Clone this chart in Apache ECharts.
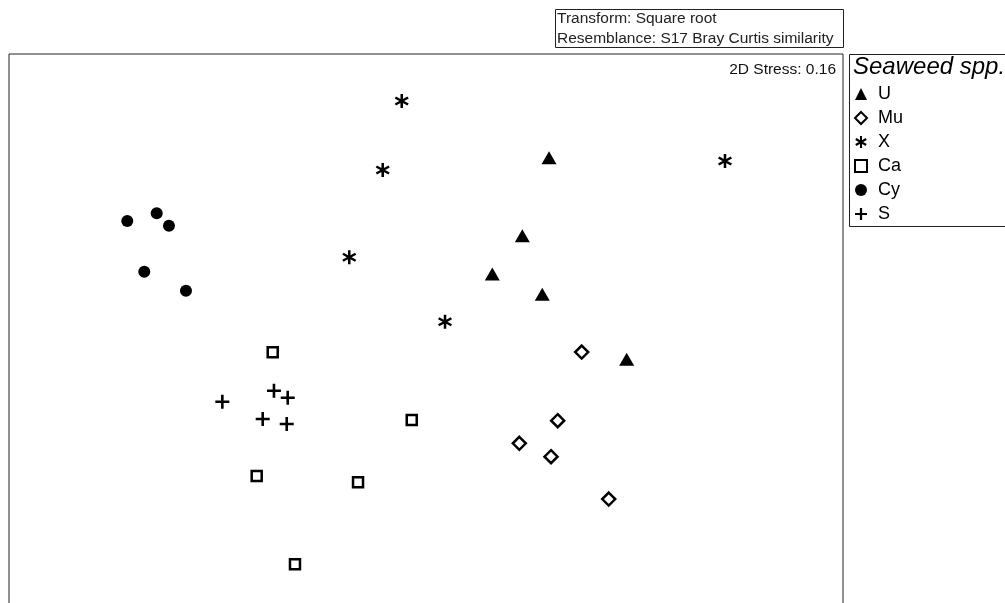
<!DOCTYPE html>
<html>
<head>
<meta charset="utf-8">
<script src="https://cdn.jsdelivr.net/npm/echarts@6/dist/echarts.min.js"></script>
<style>html,body{margin:0;padding:0;background:#fff;}#c{width:1005px;height:603px;}</style>
</head>
<body>
<div id="c"></div>
<script>
// MDS coordinates (arbitrary units)
var groups = ['U', 'Mu', 'X', 'Ca', 'Cy', 'S'];
var ptsU  = [[64.75, 81.35], [61.55, 67.32], [57.95, 60.43], [63.94, 56.78], [74.06, 45.09]];
var ptsMu = [[68.67, 46.40], [65.79, 34.05], [61.19, 29.98], [64.99, 27.57], [71.91, 19.96]];
var ptsX  = [[47.09, 91.55], [44.81, 79.14], [40.80, 63.44], [52.28, 51.85], [85.85, 80.76]];
var ptsCa = [[31.62, 46.35], [48.29, 34.17], [29.70, 24.10], [41.85, 22.97], [34.29, 8.22]];
var ptsCy = [[14.18, 69.96], [17.71, 71.35], [19.18, 69.12], [16.22, 60.85], [21.22, 57.43]];
var ptsS  = [[25.58, 37.46], [31.77, 39.44], [33.42, 38.18], [30.42, 34.35], [33.30, 33.45]];
var headerLines = ['Transform: Square root', 'Resemblance: S17 Bray Curtis similarity'];
var stressText = '2D Stress: 0.16';
var legendTitle = 'Seaweed spp.';

var plusPath = 'path://M-1.3,-7 L1.3,-7 L1.3,-1.3 L7,-1.3 L7,1.3 L1.3,1.3 L1.3,7 L-1.3,7 L-1.3,1.3 L-7,1.3 L-7,-1.3 L-1.3,-1.3 Z';
var starPath = 'path://M-1.2,-7 L1.2,-7 L1.2,7 L-1.2,7 Z M5.462,-4.539 L6.662,-2.461 L-5.462,4.539 L-6.662,2.461 Z M-6.662,-2.461 L-5.462,-4.539 L6.662,2.461 L5.462,4.539 Z';

var FONT = '"Liberation Sans", Arial, sans-serif';
var chart = echarts.init(document.getElementById('c'), null, {renderer: 'canvas'});

function ser(name, data, symbol, size, hollow, bw) {
  return {
    name: name, type: 'scatter', data: data, symbol: symbol, symbolSize: size,
    itemStyle: hollow ? {color: '#fff', borderColor: '#000', borderWidth: bw, opacity: 1} : {color: '#000', borderWidth: 0, opacity: 1},
    emphasis: {disabled: true}
  };
}

chart.setOption({
  animation: false,
  backgroundColor: '#fff',
  grid: {left: 9, top: 54, width: 834, height: 556, outerBoundsMode: 'none', containLabel: false, show: true, borderColor: '#222', borderWidth: 1, backgroundColor: 'transparent'},
  xAxis: {type: 'value', min: 0, max: 100, show: false},
  yAxis: {type: 'value', min: 0, max: 100, show: false},
  legend: {
    orient: 'vertical', left: 849, top: 80, padding: 5, itemWidth: 12, itemHeight: 12, itemGap: 6,
    textStyle: {fontFamily: FONT, fontSize: 18, color: '#000', lineHeight: 18, padding: [0, 0, 0, 6]},
    data: groups, selectedMode: false
  },
  series: [
    ser('U', ptsU, 'triangle', [15, 13], false),
    ser('Mu', ptsMu, 'diamond', [13, 13], true, 2.5),
    ser('X', ptsX, starPath, [14, 14], false),
    ser('Ca', ptsCa, 'rect', [10, 10], true, 2.5),
    ser('Cy', ptsCy, 'circle', 12, false),
    ser('S', ptsS, plusPath, [14, 14], false)
  ],
  graphic: [
    {type: 'rect', shape: {x: 555.5, y: 9.5, width: 288, height: 38}, style: {fill: 'none', stroke: '#222', lineWidth: 1}},
    {type: 'text', x: 557, y: 11, style: {text: headerLines[0], font: '15.5px ' + FONT, fill: '#222'}},
    {type: 'text', x: 557, y: 31, style: {text: headerLines[1], font: '15.5px ' + FONT, fill: '#222'}},
    {type: 'text', x: 836, y: 62, style: {text: stressText, font: '15.5px ' + FONT, fill: '#111', align: 'right'}},
    {type: 'rect', shape: {x: 849.5, y: 54.5, width: 170, height: 172}, style: {fill: 'none', stroke: '#222', lineWidth: 1}},
    {type: 'text', x: 853, y: 55, style: {text: legendTitle, font: 'italic 24px ' + FONT, fill: '#000'}}
  ]
});
</script>
</body>
</html>
